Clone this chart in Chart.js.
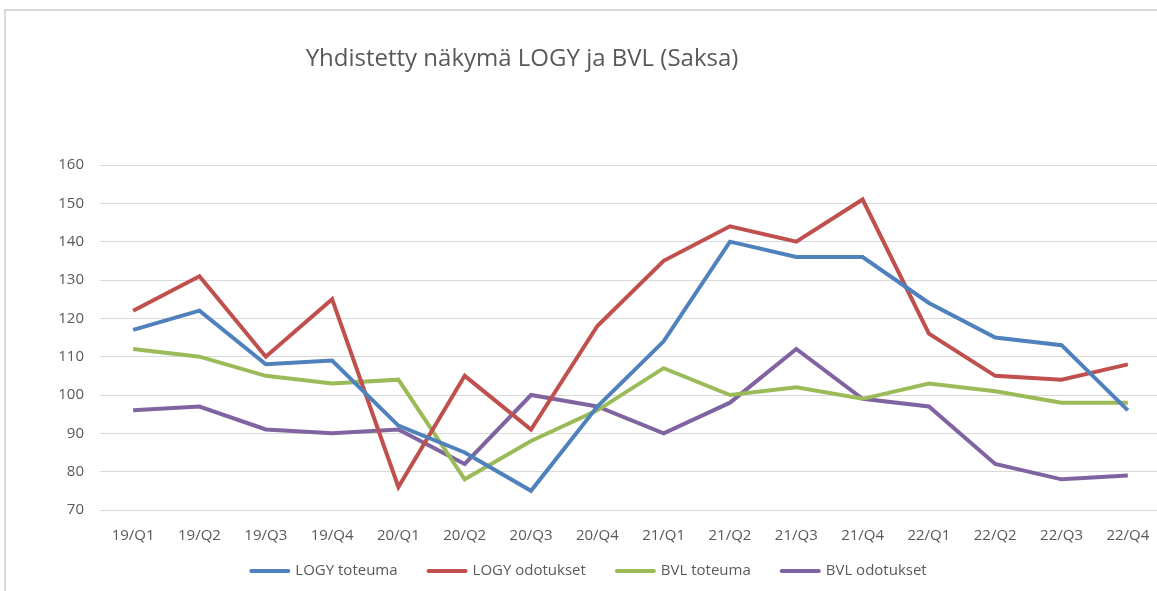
<!DOCTYPE html>
<html>
<head>
<meta charset="utf-8">
<script src="https://cdn.jsdelivr.net/npm/chart.js@4.4.0/dist/chart.umd.min.js"></script>
<style>
  body { margin: 0; background: #fff; overflow: hidden; }
  #frame { position: absolute; left: 4px; top: 9px; width: 1200px; height: 700px;
           border-top: 2px solid #d9d9d9; border-left: 2px solid #d9d9d9; }
  #wrap { position: absolute; left: 0; top: 0; width: 1166px; height: 591px; }
</style>
</head>
<body>
<div id="frame"></div>
<div id="wrap"><canvas id="chart"></canvas></div>
<script>
var quarters = ['19/Q1','19/Q2','19/Q3','19/Q4','20/Q1','20/Q2','20/Q3','20/Q4',
                '21/Q1','21/Q2','21/Q3','21/Q4','22/Q1','22/Q2','22/Q3','22/Q4'];
var logyToteuma   = [117, 122, 108, 109, 92, 85, 75, 97, 114, 140, 136, 136, 124, 115, 113, 96];
var logyOdotukset = [122, 131, 110, 125, 76, 105, 91, 118, 135, 144, 140, 151, 116, 105, 104, 108];
var bvlToteuma    = [112, 110, 105, 103, 104, 78, 88, 96, 107, 100, 102, 99, 103, 101, 98, 98];
var bvlOdotukset  = [96, 97, 91, 90, 91, 82, 100, 97, 90, 98, 112, 99, 97, 82, 78, 79];
var seriesNames = ['LOGY toteuma', 'LOGY odotukset', 'BVL toteuma', 'BVL odotukset'];
var chartTitle = 'Yhdistetty näkymä LOGY ja BVL (Saksa)';

var textColor = '#595959';
var fontFam = "'Open Sans', sans-serif";

function lineSet(name, data, color) {
  return {
    label: name,
    data: data,
    borderColor: color,
    backgroundColor: color,
    borderWidth: 4,
    pointRadius: 0,
    tension: 0,
    fill: false
  };
}

// title sits left of centre like in the original sheet
var titlePlugin = {
  id: 'sheetTitle',
  afterDraw: function (chart) {
    var ctx = chart.ctx;
    ctx.save();
    ctx.font = "24px " + fontFam;
    ctx.fillStyle = textColor;
    ctx.textAlign = 'center';
    ctx.textBaseline = 'middle';
    ctx.fillText(chartTitle, 522, 59);
    ctx.restore();
  }
};

// excel style legend: line swatch, small gap, label, wide gap
var legendPlugin = {
  id: 'sheetLegend',
  afterDraw: function (chart) {
    var ctx = chart.ctx;
    var sets = chart.data.datasets;
    var swatch = 41, gapText = 5, gapItem = 29;
    ctx.save();
    ctx.font = "15px " + fontFam;
    var total = 0;
    sets.forEach(function (ds, i) {
      total += swatch + gapText + ctx.measureText(ds.label).width;
      if (i < sets.length - 1) total += gapItem;
    });
    var x = 588 - total / 2, y = 571;
    ctx.textBaseline = 'middle';
    ctx.textAlign = 'left';
    sets.forEach(function (ds) {
      ctx.strokeStyle = ds.borderColor;
      ctx.lineWidth = 4;
      ctx.lineCap = 'round';
      ctx.beginPath();
      ctx.moveTo(x + 2, y);
      ctx.lineTo(x + swatch - 2, y);
      ctx.stroke();
      x += swatch + gapText;
      ctx.fillStyle = textColor;
      ctx.fillText(ds.label, x, y);
      x += ctx.measureText(ds.label).width + gapItem;
    });
    ctx.restore();
  }
};

new Chart(document.getElementById('chart'), {
  type: 'line',
  data: {
    labels: quarters,
    datasets: [
      lineSet(seriesNames[0], logyToteuma, '#4F81BD'),
      lineSet(seriesNames[1], logyOdotukset, '#C0504D'),
      lineSet(seriesNames[2], bvlToteuma, '#9BBB59'),
      lineSet(seriesNames[3], bvlOdotukset, '#8064A2')
    ]
  },
  options: {
    responsive: true,
    maintainAspectRatio: false,
    animation: false,
    layout: { padding: { top: 165, right: 5, bottom: 37, left: 0 } },
    plugins: {
      title: { display: false },
      tooltip: { enabled: false },
      legend: { display: false }
    },
    scales: {
      x: {
        offset: true,
        grid: { display: false },
        border: { display: false },
        ticks: {
          color: textColor,
          maxRotation: 0,
          autoSkip: false,
          padding: 9,
          font: { family: fontFam, size: 15 }
        }
      },
      y: {
        min: 70,
        max: 160,
        afterFit: function (scale) { scale.width = 100; },
        grid: { color: '#d9d9d9', lineWidth: 1, drawTicks: false },
        border: { display: false },
        ticks: {
          stepSize: 10,
          padding: 16,
          color: textColor,
          font: { family: fontFam, size: 15 }
        }
      }
    }
  },
  plugins: [titlePlugin, legendPlugin]
});
</script>
</body>
</html>
